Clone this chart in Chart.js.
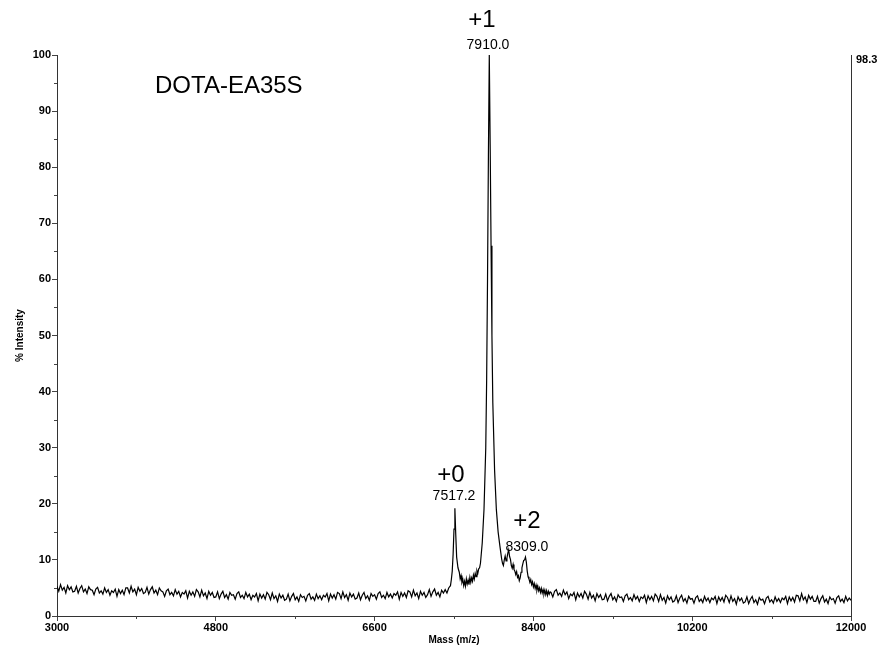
<!DOCTYPE html>
<html>
<head>
<meta charset="utf-8">
<script src="https://cdn.jsdelivr.net/npm/chart.js@4"></script>
<style>
  body { margin: 0; background: #fff; }
  canvas { display: block; }
</style>
</head>
<body>
<canvas id="myChart" width="881" height="648"></canvas>
<script>
// baseline before the peaks
var leftMass = [
  3000, 3020, 3040, 3060, 3080, 3100, 3120, 3140, 3160, 3180,
  3200, 3220, 3240, 3260, 3280, 3300, 3320, 3340, 3360, 3380,
  3400, 3420, 3440, 3460, 3480, 3500, 3520, 3540, 3560, 3580,
  3600, 3620, 3640, 3660, 3680, 3700, 3720, 3740, 3760, 3780,
  3800, 3820, 3840, 3860, 3880, 3900, 3920, 3940, 3960, 3980,
  4000, 4020, 4040, 4060, 4080, 4100, 4120, 4140, 4160, 4180,
  4200, 4220, 4240, 4260, 4280, 4300, 4320, 4340, 4360, 4380,
  4400, 4420, 4440, 4460, 4480, 4500, 4520, 4540, 4560, 4580,
  4600, 4620, 4640, 4660, 4680, 4700, 4720, 4740, 4760, 4780,
  4800, 4820, 4840, 4860, 4880, 4900, 4920, 4940, 4960, 4980,
  5000, 5020, 5040, 5060, 5080, 5100, 5120, 5140, 5160, 5180,
  5200, 5220, 5240, 5260, 5280, 5300, 5320, 5340, 5360, 5380,
  5400, 5420, 5440, 5460, 5480, 5500, 5520, 5540, 5560, 5580,
  5600, 5620, 5640, 5660, 5680, 5700, 5720, 5740, 5760, 5780,
  5800, 5820, 5840, 5860, 5880, 5900, 5920, 5940, 5960, 5980,
  6000, 6020, 6040, 6060, 6080, 6100, 6120, 6140, 6160, 6180,
  6200, 6220, 6240, 6260, 6280, 6300, 6320, 6340, 6360, 6380,
  6400, 6420, 6440, 6460, 6480, 6500, 6520, 6540, 6560, 6580,
  6600, 6620, 6640, 6660, 6680, 6700, 6720, 6740, 6760, 6780,
  6800, 6820, 6840, 6860, 6880, 6900, 6920, 6940, 6960, 6980,
  7000, 7020, 7040, 7060, 7080, 7100, 7120, 7140, 7160, 7180,
  7200, 7220, 7240, 7260, 7280, 7300, 7320, 7340, 7360, 7380
];
var leftIntensity = [
  5.3, 4.4, 5.6, 4.6, 5.1, 4.1, 5.4, 4.7, 5.2, 4.3,
  4.4, 5.3, 4.1, 4.9, 5.4, 4.3, 4.8, 4.0, 5.2, 4.7,
  4.6, 3.8, 4.8, 5.1, 4.1, 4.5, 3.9, 5.0, 4.2, 4.7,
  3.7, 4.5, 4.2, 4.8, 3.5, 4.7, 4.0, 4.6, 3.8, 5.0,
  5.0, 4.1, 5.3, 4.3, 4.8, 3.8, 5.1, 4.4, 4.9, 4.0,
  4.2, 5.1, 3.9, 4.7, 5.2, 4.1, 4.6, 3.8, 5.0, 4.5,
  4.3, 3.5, 4.5, 4.8, 3.8, 4.2, 3.6, 4.7, 3.9, 4.4,
  3.4, 4.2, 3.9, 4.5, 3.2, 4.4, 3.7, 4.3, 3.5, 4.7,
  4.3, 3.4, 4.6, 3.6, 4.1, 3.1, 4.4, 3.7, 4.2, 3.3,
  3.4, 4.3, 3.1, 3.9, 4.4, 3.3, 3.8, 3.0, 4.2, 3.7,
  3.8, 3.0, 4.0, 4.3, 3.3, 3.7, 3.1, 4.2, 3.4, 3.9,
  2.9, 3.7, 3.4, 4.0, 2.7, 3.9, 3.2, 3.8, 3.0, 4.2,
  3.8, 2.9, 4.1, 3.1, 3.6, 2.6, 3.9, 3.2, 3.7, 2.8,
  3.0, 3.9, 2.7, 3.5, 4.0, 2.9, 3.4, 2.6, 3.8, 3.3,
  3.5, 2.7, 3.7, 4.0, 3.0, 3.4, 2.8, 3.9, 3.1, 3.6,
  2.9, 3.7, 3.4, 4.0, 2.7, 3.9, 3.2, 3.8, 3.0, 4.2,
  4.0, 3.1, 4.3, 3.3, 3.8, 2.8, 4.1, 3.4, 3.9, 3.0,
  3.2, 4.1, 2.9, 3.7, 4.2, 3.1, 3.6, 2.8, 4.0, 3.5,
  3.8, 3.0, 4.0, 4.3, 3.3, 3.7, 3.1, 4.2, 3.4, 3.9,
  3.2, 4.0, 3.7, 4.3, 3.0, 4.2, 3.5, 4.1, 3.3, 4.5,
  4.3, 3.4, 4.6, 3.6, 4.1, 3.1, 4.4, 3.7, 4.2, 3.3,
  3.8, 4.7, 3.5, 4.3, 4.8, 3.7, 4.2, 3.4, 4.6, 4.1
];

// +0, +1, +2 region
var peakMass = [
  7400, 7420, 7440, 7460, 7470, 7480, 7490, 7500, 7510, 7520,
  7530, 7545, 7560, 7570, 7580, 7590, 7600, 7610, 7620, 7630,
  7640, 7650, 7660, 7670, 7680, 7690, 7700, 7710, 7720, 7730,
  7740, 7750, 7760, 7770, 7780, 7790, 7800, 7820, 7840, 7860,
  7870, 7880, 7890, 7900, 7910, 7920, 7930, 7940, 7960, 7980,
  8000, 8020, 8040, 8050, 8060, 8070, 8080, 8090, 8100, 8110,
  8120, 8130, 8140, 8150, 8160, 8170, 8180, 8190, 8200, 8210,
  8220, 8230, 8240, 8250, 8260, 8270, 8280, 8290, 8300, 8310,
  8320, 8330, 8340, 8350, 8360, 8370, 8380, 8390, 8400, 8410,
  8420, 8430, 8440, 8450, 8460, 8470, 8480, 8490, 8500, 8510,
  8520, 8530, 8540, 8550, 8560, 8570, 8580, 8590
];
var peakIntensity = [
  4.7, 4.1, 5.0, 5.4, 6.5, 8.0, 11.0, 15.5, 19.2, 14.5,
  10.5, 8.6, 7.8, 6.6, 7.2, 6.0, 6.5, 5.4, 6.2, 5.3,
  6.6, 5.7, 6.4, 5.6, 6.9, 6.0, 6.8, 6.2, 7.3, 6.6,
  7.6, 7.0, 8.1, 7.6, 8.4, 8.6, 9.4, 13.0, 19.0, 30.0,
  42.0, 60.0, 82.0, 100.0, 84.0, 66.0, 50.0, 38.0, 26.0, 19.0,
  15.0, 12.5, 10.2, 9.4, 9.0, 10.0, 10.7, 9.8, 10.3, 11.2,
  11.8, 10.6, 10.1, 9.0, 8.5, 9.2, 8.3, 8.0, 7.4, 7.9,
  6.9, 7.2, 6.3, 6.8, 7.8, 8.6, 9.3, 9.9, 10.0, 10.5,
  9.6, 8.0, 7.0, 6.6, 6.0, 6.5, 5.6, 6.1, 5.2, 5.8,
  4.9, 5.5, 4.6, 5.3, 4.5, 5.0, 4.2, 4.9, 4.1, 4.7,
  3.9, 4.6, 3.8, 4.5, 3.7, 4.4, 3.9, 4.3
];

// baseline after the peaks
var rightMass = [
  8600, 8620, 8640, 8660, 8680, 8700, 8720, 8740, 8760, 8780,
  8800, 8820, 8840, 8860, 8880, 8900, 8920, 8940, 8960, 8980,
  9000, 9020, 9040, 9060, 9080, 9100, 9120, 9140, 9160, 9180,
  9200, 9220, 9240, 9260, 9280, 9300, 9320, 9340, 9360, 9380,
  9400, 9420, 9440, 9460, 9480, 9500, 9520, 9540, 9560, 9580,
  9600, 9620, 9640, 9660, 9680, 9700, 9720, 9740, 9760, 9780,
  9800, 9820, 9840, 9860, 9880, 9900, 9920, 9940, 9960, 9980,
  10000, 10020, 10040, 10060, 10080, 10100, 10120, 10140, 10160, 10180,
  10200, 10220, 10240, 10260, 10280, 10300, 10320, 10340, 10360, 10380,
  10400, 10420, 10440, 10460, 10480, 10500, 10520, 10540, 10560, 10580,
  10600, 10620, 10640, 10660, 10680, 10700, 10720, 10740, 10760, 10780,
  10800, 10820, 10840, 10860, 10880, 10900, 10920, 10940, 10960, 10980,
  11000, 11020, 11040, 11060, 11080, 11100, 11120, 11140, 11160, 11180,
  11200, 11220, 11240, 11260, 11280, 11300, 11320, 11340, 11360, 11380,
  11400, 11420, 11440, 11460, 11480, 11500, 11520, 11540, 11560, 11580,
  11600, 11620, 11640, 11660, 11680, 11700, 11720, 11740, 11760, 11780,
  11800, 11820, 11840, 11860, 11880, 11900, 11920, 11940, 11960, 11980,
  12000
];
var rightIntensity = [
  4.2, 3.4, 4.4, 4.7, 3.7, 4.1, 3.5, 4.6, 3.8, 4.3,
  3.1, 3.9, 3.6, 4.2, 2.9, 4.1, 3.4, 4.0, 3.2, 4.4,
  3.9, 3.0, 4.2, 3.2, 3.7, 2.7, 4.0, 3.3, 3.8, 2.9,
  3.0, 3.9, 2.7, 3.5, 4.0, 2.9, 3.4, 2.6, 3.8, 3.3,
  3.4, 2.6, 3.6, 3.9, 2.9, 3.3, 2.7, 3.8, 3.0, 3.5,
  2.6, 3.4, 3.1, 3.7, 2.4, 3.6, 2.9, 3.5, 2.7, 3.9,
  3.5, 2.6, 3.8, 2.8, 3.3, 2.3, 3.6, 2.9, 3.4, 2.5,
  2.7, 3.6, 2.4, 3.2, 3.7, 2.6, 3.1, 2.3, 3.5, 3.0,
  3.1, 2.3, 3.3, 3.6, 2.6, 3.0, 2.4, 3.5, 2.7, 3.2,
  2.4, 3.2, 2.9, 3.5, 2.2, 3.4, 2.7, 3.3, 2.5, 3.7,
  3.3, 2.4, 3.6, 2.6, 3.1, 2.1, 3.4, 2.7, 3.2, 2.3,
  2.5, 3.4, 2.2, 3.0, 3.5, 2.4, 2.9, 2.1, 3.3, 2.8,
  3.0, 2.2, 3.2, 3.5, 2.5, 2.9, 2.3, 3.4, 2.6, 3.1,
  2.4, 3.2, 2.9, 3.5, 2.2, 3.4, 2.7, 3.3, 2.5, 3.7,
  3.6, 2.7, 4.0, 2.9, 3.4, 2.4, 3.7, 3.0, 3.5, 2.6,
  2.6, 3.5, 2.3, 3.1, 3.6, 2.5, 3.0, 2.2, 3.4, 2.9,
  3.1, 2.3, 3.3, 3.6, 2.6, 3.0, 2.4, 3.5, 2.7, 3.2,
  2.8
];

var xTickValues = [3000, 4800, 6600, 8400, 10200, 12000];
var xMinorTicks = [3900, 5700, 7500, 9300, 11100];
var yTickValues = [0, 10, 20, 30, 40, 50, 60, 70, 80, 90, 100];
var yMinorTicks = [5, 15, 25, 35, 45, 55, 65, 75, 85, 95];

// peak tags: text, mass and intensity where they sit
var tagText = ['+1', '7910.0', '+0', '7517.2', '+2', '8309.0'];
var tagMass = [7817, 7885, 7466, 7500, 8327, 8327];
var tagLevel = [106.1, 101.8, 25.1, 21.4, 16.8, 12.3];

var sampleName = 'DOTA-EA35S';
var maxLabel = '98.3';

var mass = leftMass.concat(peakMass, rightMass);
var intensity = leftIntensity.concat(peakIntensity, rightIntensity);
var points = mass.map(function(m, i){ return {x: m, y: intensity[i]}; });

var FONT = 'Arial, "Liberation Sans", sans-serif';

var tagPlugin = {
  id: 'tags',
  afterDraw: function(chart){
    var c = chart.ctx, xs = chart.scales.x, ys = chart.scales.y, area = chart.chartArea;
    c.save();
    // short minor ticks
    c.strokeStyle = '#444';
    c.lineWidth = 1;
    c.beginPath();
    xMinorTicks.forEach(function(v){
      var px = Math.round(xs.getPixelForValue(v)) + 0.5;
      c.moveTo(px, area.bottom);
      c.lineTo(px, area.bottom + 3);
    });
    yMinorTicks.forEach(function(v){
      var py = Math.round(ys.getPixelForValue(v)) + 0.5;
      c.moveTo(area.left, py);
      c.lineTo(area.left - 3, py);
    });
    c.stroke();

    c.fillStyle = '#000';
    c.textAlign = 'center';
    c.textBaseline = 'middle';
    for (var i = 0; i < tagText.length; i++) {
      var big = tagText[i].charAt(0) === '+';
      c.font = (big ? '24px ' : '14px ') + FONT;
      c.fillText(tagText[i], xs.getPixelForValue(tagMass[i]), ys.getPixelForValue(tagLevel[i]));
    }
    c.textAlign = 'left';
    c.font = '24px ' + FONT;
    c.fillText(sampleName, area.left + 98, area.top + 31);
    c.font = 'bold 11px ' + FONT;
    c.fillText(maxLabel, area.right + 5, area.top + 5);
    c.restore();
  }
};

var ctx = document.getElementById('myChart');
var myChart = new Chart(ctx, {
  type: 'line',
  data: {
    datasets: [{
      label: sampleName,
      data: points,
      borderColor: '#000',
      borderWidth: 1.2,
      pointRadius: 0,
      tension: 0,
      fill: false
    }]
  },
  options: {
    responsive: false,
    animation: false,
    layout: { padding: { top: 55, right: 0, bottom: 0, left: 0 } },
    plugins: { legend: { display: false }, tooltip: { enabled: false } },
    scales: {
      x: {
        type: 'linear',
        min: 3000,
        max: 12000,
        afterBuildTicks: function(s){ s.ticks = xTickValues.map(function(v){ return {value: v}; }); },
        afterFit: function(s){ s.height = 32; },
        ticks: {
          autoSkip: false,
          maxRotation: 0,
          padding: 0,
          color: '#000',
          font: { family: FONT, size: 11, weight: 'bold' },
          callback: function(v){ return String(v); }
        },
        grid: { drawOnChartArea: false, tickLength: 5, color: '#444' },
        border: { color: '#333', width: 1 },
        title: {
          display: true,
          text: 'Mass (m/z)',
          color: '#000',
          font: { family: FONT, size: 10, weight: 'bold' },
          padding: { top: 0, bottom: 2 }
        }
      },
      y: {
        min: 0,
        max: 100,
        afterBuildTicks: function(s){ s.ticks = yTickValues.map(function(v){ return {value: v}; }); },
        afterFit: function(s){ s.width = 57; },
        ticks: {
          padding: 1,
          color: '#000',
          font: { family: FONT, size: 11, weight: 'bold' },
          callback: function(v){ return String(v); }
        },
        grid: { drawOnChartArea: false, tickLength: 5, color: '#444' },
        border: { color: '#333', width: 1 },
        title: {
          display: true,
          text: '% Intensity',
          color: '#000',
          font: { family: FONT, size: 10, weight: 'bold' },
          padding: { top: 14, bottom: 0 }
        }
      },
      y2: {
        position: 'right',
        min: 0,
        max: 100,
        afterFit: function(s){ s.width = 30; },
        ticks: { display: false },
        grid: { drawOnChartArea: false, drawTicks: false },
        border: { color: '#333', width: 1 }
      }
    }
  },
  plugins: [tagPlugin]
});
</script>
</body>
</html>
